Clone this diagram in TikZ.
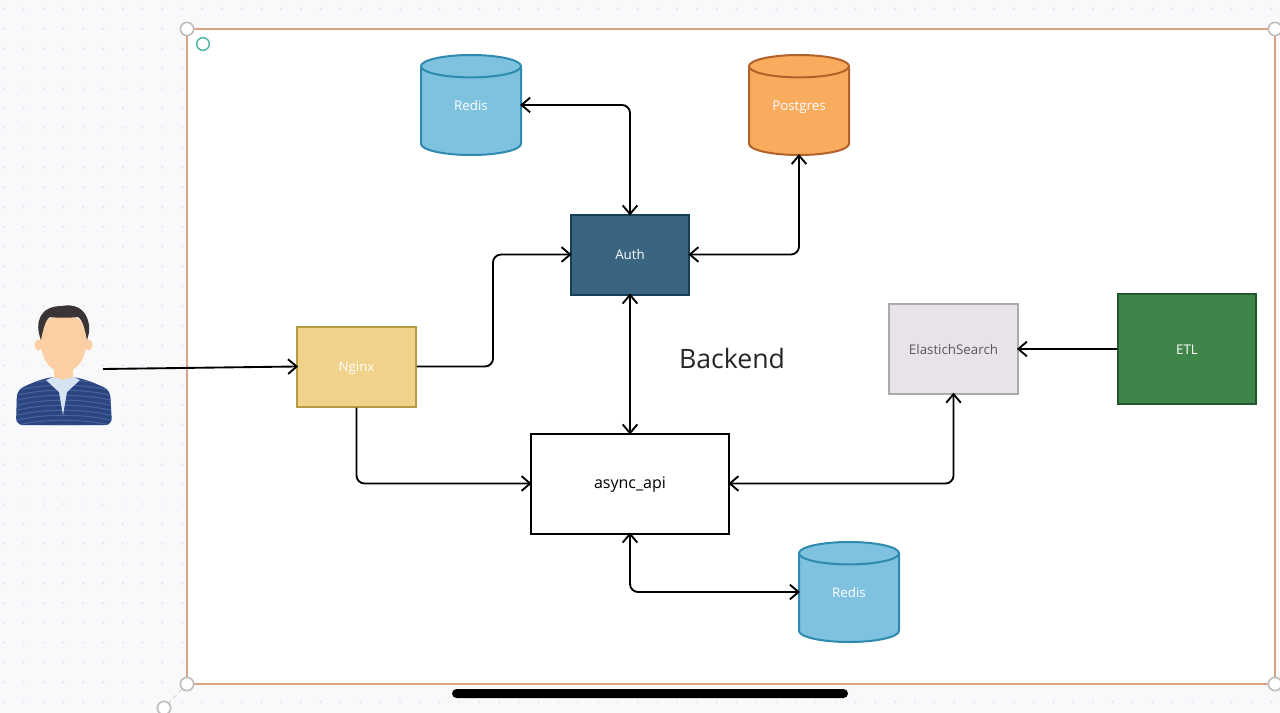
\documentclass[tikz,border=0pt]{standalone}
\usepackage{xcolor}
\usepackage{fontspec}
\setmainfont{Open Sans}
\usetikzlibrary{arrows.meta,shapes.geometric}
\definecolor{pagebg}{HTML}{F9F9FC}
\definecolor{griddot}{HTML}{DEE0E6}
\definecolor{framecol}{HTML}{DBA284}
\definecolor{handlecol}{HTML}{BDBDBD}
\definecolor{tealcol}{HTML}{50B8A0}
\definecolor{redisfill}{HTML}{7FC2DF}
\definecolor{redisline}{HTML}{2E8AAE}
\definecolor{pgfill}{HTML}{F9AB5E}
\definecolor{pgline}{HTML}{B0622A}
\definecolor{authfill}{HTML}{3A6581}
\definecolor{authline}{HTML}{173F58}
\definecolor{nginxfill}{HTML}{F0D28A}
\definecolor{nginxline}{HTML}{B79A45}
\definecolor{elasticfill}{HTML}{E8E3EA}
\definecolor{elasticline}{HTML}{ABABAF}
\definecolor{etlfill}{HTML}{3F8449}
\definecolor{etlline}{HTML}{22562C}
\definecolor{shirtcol}{HTML}{2B4580}
\definecolor{stripecol}{HTML}{47619C}
\definecolor{collarcol}{HTML}{D5E3F3}
\definecolor{skincol}{HTML}{FBCFA3}
\definecolor{haircol}{HTML}{3A3436}
\tikzset{
  box/.style={draw, rectangle, line width=1.5pt, inner sep=0pt, text=white, text height=7.5pt, text depth=0pt, font=\fontsize{10}{12}\selectfont},
  drum/.style={draw, cylinder, shape border rotate=90, shape aspect=0.4, minimum width=75pt, minimum height=75pt, inner sep=0pt, anchor=shape center, text width=42pt, align=center, text height=7.5pt, text depth=8pt, line width=1.5pt, text=white, font=\fontsize{10}{12}\selectfont},
  link/.style={line width=1.4pt, rounded corners=6pt, shorten >=-1.5pt, shorten <=-1.5pt, {Straight Barb[length=6.5pt,width=11pt]}-{Straight Barb[length=6.5pt,width=11pt]}},
  linkone/.style={line width=1.4pt, rounded corners=6pt, shorten >=-1.5pt, -{Straight Barb[length=6.5pt,width=11pt]}},
  handle/.style={draw=handlecol, fill=white, circle, line width=1.2pt, minimum size=10pt, inner sep=0pt}
}
\begin{document}
\begin{tikzpicture}[x=0.75pt, y=-0.75pt]
   \useasboundingbox (0, 0) rectangle (1280, 713);
   \fill[pagebg] (0, 0) rectangle (1280, 713);
   \foreach \gx in {0,...,64} {
      \foreach \gy in {0,...,36} {
         \fill[griddot] (4 + 19.8 * \gx, 9 + 19.8 * \gy) circle (1);
      }
   }
   \draw[draw=framecol][fill=white][line width=1.8pt] (187, 29) rectangle (1275, 684);
   \coordinate (RotateFoot) at (164, 708);
   \node[handle] (CornerA) at (187, 29) {};
   \node[handle] (CornerB) at (1275, 29) {};
   \node[handle] (CornerC) at (187, 684) {};
   \node[handle] (CornerD) at (1275, 684) {};
   \draw[color=handlecol][dashed] (CornerC) to (RotateFoot);
   \node[handle] (Rotate) at (164, 708) {};
   \node[draw=tealcol, circle, line width=1.1pt, minimum size=9.5pt, inner sep=0pt] (Teal) at (203, 44) {};
   \fill[black][rounded corners=3.4pt] (452, 689) rectangle (848, 698);
   % person
   \begin{scope}
      \clip[rounded corners=5pt] (16, 425) -- (17, 390) -- (34, 382) -- (50, 377) -- (76, 377) -- (92, 382) -- (110, 390) -- (112, 425) -- cycle;
      \fill[shirtcol] (10, 370) rectangle (118, 430);
      \foreach \sy in {382, 387, ..., 428} {
         \draw[color=stripecol][line width=0.8pt] (10, \sy + 5) .. controls (40, \sy - 4) and (85, \sy - 4) .. (118, \sy + 5);
      }
   \end{scope}
   \fill[collarcol] (46, 380) -- (56, 376) -- (72, 376) -- (80, 380) -- (67, 392) -- (63, 415) -- (59, 392) -- cycle;
   \fill[skincol] (54, 360) rectangle (73, 378);
   \fill[skincol] (54, 376) -- (73, 376) -- (63, 380) -- cycle;
   \fill[skincol] (38.5, 345) ellipse (4 and 5.5);
   \fill[skincol] (88.5, 345) ellipse (4 and 5.5);
   \fill[skincol] (40, 335) .. controls (40, 308) and (87, 308) .. (87, 335) .. controls (87, 358) and (78, 372) .. (63.5, 372) .. controls (49, 372) and (40, 358) .. (40, 335) -- cycle;
   \fill[haircol] (41, 340) .. controls (34, 322) and (40, 306) .. (62, 306) .. controls (72, 304) and (86, 306) .. (89, 325) .. controls (90, 332) and (88, 336) .. (87, 340) .. controls (85, 330) and (83, 320) .. (78, 317) .. controls (68, 318) and (58, 318) .. (50, 317) .. controls (45, 320) and (43, 330) .. (41, 340) -- cycle;
   \coordinate (UserOut) at (103, 369);
   % nodes
   \node[drum][fill=redisfill][draw=redisline] (RedisA) at (471, 105) {Redis};
   \node[drum][fill=pgfill][draw=pgline] (Postgres) at (799, 105) {Postgres};
   \node[drum][fill=redisfill][draw=redisline] (RedisB) at (849, 592) {Redis};
   \node[box][fill=authfill][draw=authline, minimum width=89pt, minimum height=60pt] (Auth) at (630, 254.5) {Auth};
   \node[box][fill=nginxfill][draw=nginxline, minimum width=89pt, minimum height=60pt] (Nginx) at (356.5, 366.5) {Nginx};
   \node[box][fill=white][draw=black, text=black, minimum width=149pt, minimum height=75pt, font=\fontsize{12}{14}\selectfont] (Async) at (630, 483.5) {async\_api};
   \node[box][fill=elasticfill][draw=elasticline, text=black!65, minimum width=96.5pt, minimum height=67pt] (Elastic) at (953.5, 349) {ElastichSearch};
   \node[box][fill=etlfill][draw=etlline, minimum width=104pt, minimum height=82pt] (ETL) at (1187, 349) {ETL};
   \node[font=\fontsize{20}{24}\selectfont, text=black!85, inner sep=0pt] (Backend) at (732, 358) {Backend};
   \coordinate (BendA) at (493, 310);
   % connectors
   \draw[linkone] (UserOut) to (Nginx.west);
   \draw[linkone] (Nginx.east) -| (BendA) |- (Auth.west);
   \draw[linkone] (Nginx.south) |- (Async.west);
   \draw[link] (RedisA.shape center -| RedisA.east) -| (Auth.north);
   \draw[link] (Auth.east) -| (Postgres.south);
   \draw[link] (Auth.south) to (Async.north);
   \draw[link] (Async.east) -| (Elastic.south);
   \draw[link] (Async.south) |- (RedisB.shape center -| RedisB.west);
   \draw[linkone] (ETL.west) to (Elastic.east);
\end{tikzpicture}
\end{document}
